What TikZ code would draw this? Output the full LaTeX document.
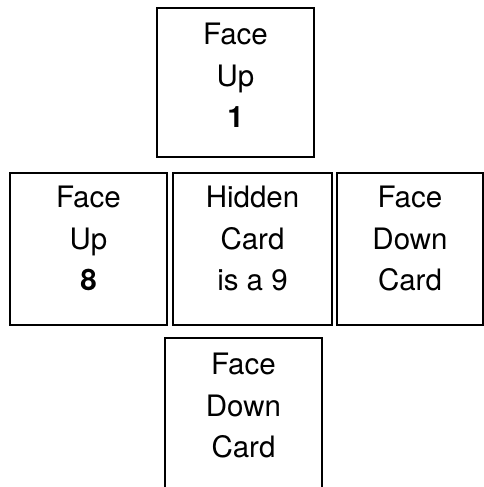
\documentclass[tikz,border=0pt]{standalone}
\usepackage{fontspec}
\setmainfont{TeX Gyre Heros}
\tikzset{
  card/.style={draw, line width=2.2pt, inner sep=0pt},
  cardtext/.style={anchor=north, align=center, inner sep=0pt,
    font=\fontsize{29.5}{41.5}\selectfont}
}
\begin{document}
\begin{tikzpicture}[x=1pt,y=-1pt]
   \useasboundingbox (0,0) rectangle (484,487);
   \clip (0,0) rectangle (484,487);
   \foreach \n/\x/\y/\w/\h in
     { up1/235.5/82.5/157/149,
       up8/88.5/249/157/152,
       hidden/252.5/249/159/152,
       downright/410/249/146/152,
       downbottom/243.5/419/157/162%
     }
     \node[card, minimum width=\w pt, minimum height=\h pt] (\n) at (\x,\y) {};
   \node[cardtext] (up1-text) at ([yshift=-16pt]up1.north) {Face\\Up\\\textbf{1}};
   \node[cardtext] (up8-text) at ([yshift=-14pt]up8.north) {Face\\Up\\\textbf{8}};
   \node[cardtext] (hidden-text) at ([yshift=-14pt]hidden.north) {Hidden\\Card\\is a 9};
   \node[cardtext] (downright-text) at ([yshift=-14pt]downright.north) {Face\\Down\\Card};
   \node[cardtext] (downbottom-text) at ([yshift=-16pt]downbottom.north) {Face\\Down\\Card};
\end{tikzpicture}
\end{document}
